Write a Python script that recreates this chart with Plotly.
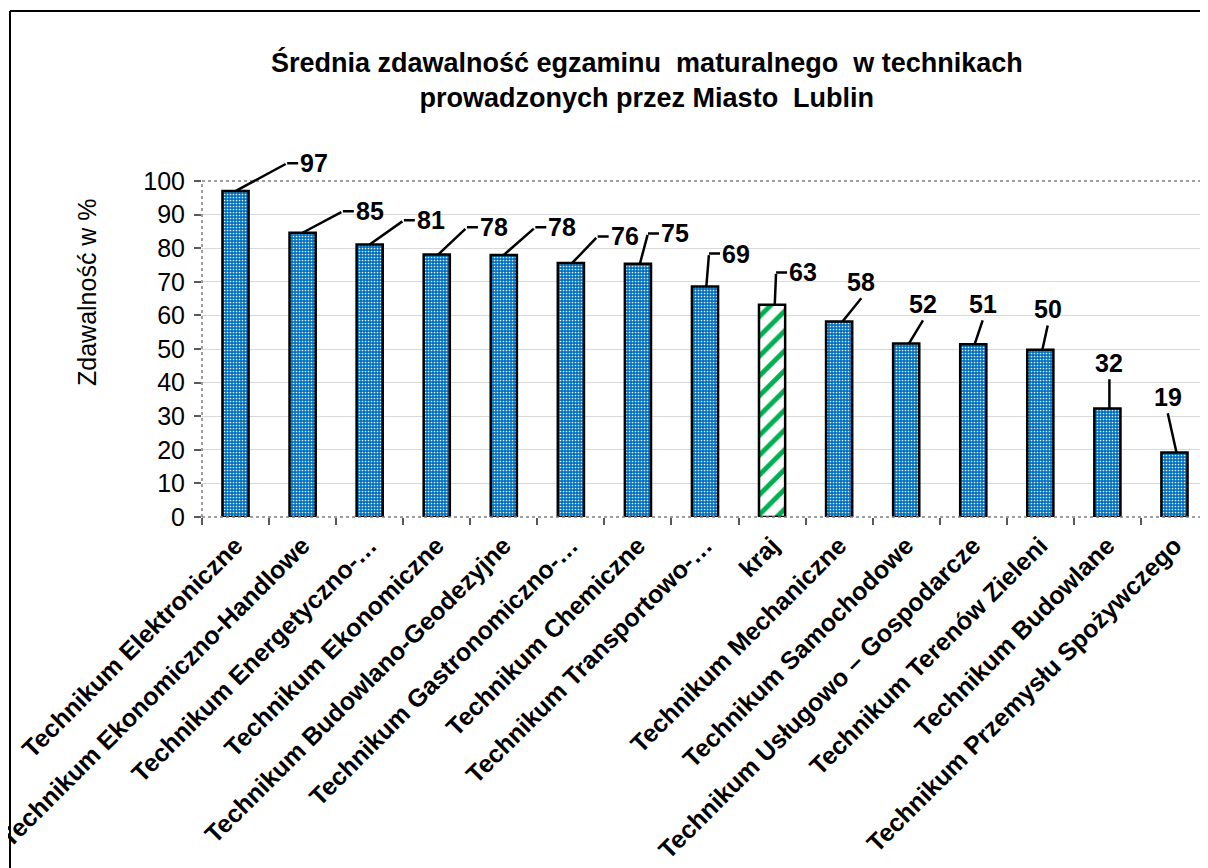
import plotly.graph_objects as go

# ── Data ─────────────────────────────────────────────────────────────────────
categories = [
    "Technikum Elektroniczne",
    "Technikum Ekonomiczno-Handlowe",
    "Technikum Energetyczno-…",
    "Technikum Ekonomiczne",
    "Technikum Budowlano-Geodezyjne",
    "Technikum Gastronomiczno-…",
    "Technikum Chemiczne",
    "Technikum Transportowo-…",
    "kraj",
    "Technikum Mechaniczne",
    "Technikum Samochodowe",
    "Technikum Usługowo – Gospodarcze",
    "Technikum Terenów Zieleni",
    "Technikum Budowlane",
    "Technikum Przemysłu Spożywczego",
]
values = [97.0, 84.6, 81.1, 78.1, 78.0, 75.6, 75.4, 68.6, 63.2,
          58.2, 51.6, 51.4, 49.8, 32.3, 19.2]
highlight = "kraj"
y_ticks = list(range(0, 101, 10))
Y_MAX = 100

title_text = ("Średnia zdawalność egzaminu  maturalnego  w technikach<br>"
              "prowadzonych przez Miasto  Lublin")
y_title = "Zdawalność w %"
header = "Wykres nr 27"

# ── Style ────────────────────────────────────────────────────────────────────
FONT = "Liberation Sans, Arial, sans-serif"
BLUE = "#0070c0"
GREEN = "#00b050"

# page body has an 8px margin, so the figure is drawn 8px smaller
OFF = 8
W, H = 1208 - OFF, 868 - OFF
# plot area in window pixels
X0, X1, Y0, Y1 = 202, 1208, 181, 517
PW, PH = X1 - X0, Y1 - Y0


def px(x):
    return (x - X0) / PW


def py(y):
    return (Y1 - y) / PH


# callouts: start dx, elbow dx (category units), elbow dy (value units), stub
CALLOUTS = [
    (0.00, 0.77, 8.3, True),
    (0.00, 0.60, 6.4, True),
    (0.00, 0.51, 7.2, True),
    (0.02, 0.45, 8.1, True),
    (0.00, 0.47, 8.2, True),
    (0.02, 0.40, 7.9, True),
    (0.03, 0.15, 9.0, True),
    (0.02, 0.06, 9.8, True),
    (0.04, 0.06, 9.6, True),
    (0.05, 0.33, 6.9, False),
    (0.04, 0.25, 6.9, False),
    (0.02, 0.14, 7.1, False),
    (0.03, 0.11, 7.2, False),
    (0.03, 0.03, 8.7, False),
    (0.03, -0.10, 11.7, False),
]
STUB = 11

is_hl = [c == highlight for c in categories]
bar_line = dict(color="black", width=2.5)

fig = go.Figure()
fig.add_trace(go.Bar(
    x=categories,
    y=[None if h else v for v, h in zip(values, is_hl)],
    width=0.39,
    marker=dict(
        color=BLUE,
        line=bar_line,
        pattern=dict(shape=".", fgcolor="white", fgopacity=0.9,
                     size=3, solidity=0.25, fillmode="overlay"),
    ),
    hoverinfo="skip",
))
fig.add_trace(go.Bar(
    x=categories,
    y=[v if h else None for v, h in zip(values, is_hl)],
    width=0.39,
    marker=dict(
        color="white",
        line=bar_line,
        pattern=dict(shape="/", fgcolor=GREEN, bgcolor="white",
                     size=14, solidity=0.35, fillmode="replace"),
    ),
    hoverinfo="skip",
))

annotations = []
label_font = dict(family=FONT, size=25, color="black")
arrow = dict(showarrow=True, arrowhead=0, arrowwidth=2.5, arrowcolor="black",
             standoff=0, startstandoff=0)
for i, (v, (sx, ex, ey, stub)) in enumerate(zip(values, CALLOUTS)):
    label = f"{v:.0f}"
    if stub:
        annotations.append(dict(
            x=i + sx, y=v, ax=i + ex, ay=v + ey, axref="x", ayref="y",
            text="", **arrow))
        # elbow may sit above the axis range -> place it on paper scale
        annotations.append(dict(
            x=i + ex, y=(v + ey) / Y_MAX, yref="paper", ax=STUB, ay=0,
            text=f"<b>{label}</b>", xanchor="left", yanchor="middle",
            font=label_font, **arrow))
    else:
        annotations.append(dict(
            x=i + sx, y=v, ax=i + ex, ay=v + ey, axref="x", ayref="y",
            text=f"<b>{label}</b>", xanchor="center", yanchor="bottom",
            font=label_font, **arrow))

annotations += [
    dict(xref="paper", yref="paper", x=px(647), y=py(80),
         text=f"<b>{title_text}</b>", showarrow=False,
         xanchor="center", yanchor="middle",
         font=dict(family=FONT, size=27, color="black")),
    dict(xref="paper", yref="paper", x=px(87), y=py(292),
         text=y_title, textangle=-90, showarrow=False,
         xanchor="center", yanchor="middle",
         font=dict(family=FONT, size=25, color="black")),
    dict(xref="paper", yref="paper", x=px(8), y=py(7),
         text=f"<b>{header}</b>", showarrow=False,
         xanchor="left", yanchor="bottom",
         font=dict(family=FONT, size=24, color="black")),
]

dotted = dict(color="#7f7f7f", width=1.5, dash="dot")
shapes = [
    dict(type="line", xref="paper", yref="paper", x0=0, x1=1, y0=1, y1=1,
         line=dotted),
    dict(type="line", xref="paper", yref="paper", x0=0, x1=1, y0=0, y1=0,
         line=dotted),
    dict(type="line", xref="paper", yref="paper", x0=0, x1=0, y0=0, y1=1,
         line=dotted),
    # chart frame
    dict(type="line", xref="paper", yref="paper", x0=px(10), x1=px(1215),
         y0=py(11), y1=py(11), line=dict(color="black", width=2)),
    dict(type="line", xref="paper", yref="paper", x0=px(10), x1=px(10),
         y0=py(11), y1=py(875), line=dict(color="black", width=2)),
]

fig.update_layout(
    width=W, height=H,
    margin=dict(l=X0 - OFF, r=W - (X1 - OFF), t=Y0 - OFF, b=H - (Y1 - OFF),
                autoexpand=False),
    paper_bgcolor="white",
    plot_bgcolor="white",
    showlegend=False,
    barmode="overlay",
    annotations=annotations,
    shapes=shapes,
    xaxis=dict(
        type="category",
        categoryorder="array",
        categoryarray=categories,
        tickangle=-45,
        tickson="boundaries",
        ticks="outside",
        ticklen=7,
        tickwidth=1.5,
        tickcolor="#595959",
        ticklabelstandoff=8,
        showgrid=False,
        showline=False,
        automargin=False,
        tickfont=dict(family=FONT, size=25, color="black", weight="bold"),
    ),
    yaxis=dict(
        range=[0, Y_MAX],
        tickvals=y_ticks,
        ticks="outside",
        ticklen=7,
        tickwidth=1.5,
        tickcolor="#595959",
        ticklabelstandoff=4,
        showgrid=True,
        gridcolor="#d9d9d9",
        gridwidth=1,
        zeroline=False,
        showline=False,
        automargin=False,
        tickfont=dict(family=FONT, size=25, color="black"),
    ),
)

fig.write_html("out.html")
